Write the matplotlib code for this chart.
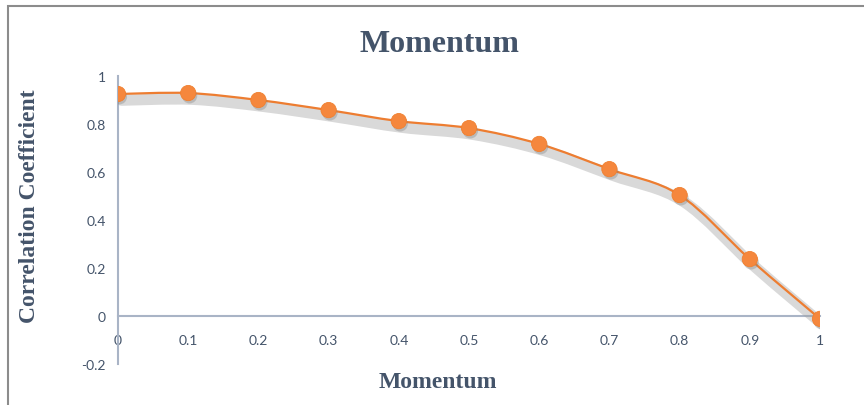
import numpy as np
import matplotlib
matplotlib.use('Agg')
import matplotlib.pyplot as plt
import matplotlib.patheffects as pe
from matplotlib.path import Path
from matplotlib.patches import PathPatch, Rectangle

# Значения коэффициента корреляции для разных значений momentum
momentum = [0, 0.1, 0.2, 0.3, 0.4, 0.5, 0.6, 0.7, 0.8, 0.9, 1.0]
corr = [0.925, 0.929, 0.90, 0.858, 0.812, 0.783, 0.717, 0.612, 0.504, 0.237, -0.012]
x_ticks = [0, 0.1, 0.2, 0.3, 0.4, 0.5, 0.6, 0.7, 0.8, 0.9, 1]
x_tick_labels = ['0', '0.1', '0.2', '0.3', '0.4', '0.5', '0.6', '0.7', '0.8', '0.9', '1']
y_ticks = [-0.2, 0, 0.2, 0.4, 0.6, 0.8, 1]
y_tick_labels = ['-0.2', '0', '0.2', '0.4', '0.6', '0.8', '1']

text_color = '#44546A'
axis_color = '#A9B4C6'
line_color = '#ED7D31'


def smooth_path(xs, ys, k=1 / 6):
    # кривая Безье через все точки (сглаживание как в Excel)
    pts = np.column_stack([xs, ys])
    verts = [pts[0]]
    codes = [Path.MOVETO]
    n = len(pts)
    for i in range(n - 1):
        p0 = pts[i - 1] if i > 0 else pts[i]
        p1 = pts[i]
        p2 = pts[i + 1]
        p3 = pts[i + 2] if i + 2 < n else pts[i + 1]
        c1 = p1 + (p2 - p0) * k
        c2 = p2 - (p3 - p1) * k
        verts += [c1, c2, p2]
        codes += [Path.CURVE4] * 3
    return Path(verts, codes)


fig = plt.figure(figsize=(8.64, 4.06), dpi=100)
ax = fig.add_axes([0.1366, 0.101, 0.8125, 0.7093])

# рамка области диаграммы
fig.patches.append(Rectangle((7.5 / 864, -0.1), 1.2, 1 - 6.5 / 406 + 0.1,
                             transform=fig.transFigure, fill=False,
                             edgecolor='#8C8C8C', linewidth=1.5))

curve = PathPatch(smooth_path(momentum, corr), fill=False, edgecolor=line_color,
                  linewidth=1.6, zorder=3, capstyle='round',
                  path_effects=[pe.SimpleLineShadow(offset=(2.5, -4.5), shadow_color='#A0A0A0',
                                                    alpha=0.4, linewidth=8),
                                pe.Normal()])
ax.add_patch(curve)

ax.plot(momentum, corr, linestyle='none', marker='o', markersize=11,
        markerfacecolor='#F5873D', markeredgecolor='#F08030', markeredgewidth=0.6,
        zorder=4,
        path_effects=[pe.SimplePatchShadow(offset=(1, -2), shadow_rgbFace='#808080', alpha=0.35),
                      pe.Normal()])

ax.set_xlim(0, 1)
ax.set_ylim(-0.2, 1)
ax.set_xticks(x_ticks)
ax.set_xticklabels(x_tick_labels)
ax.set_yticks(y_ticks)
ax.set_yticklabels(y_tick_labels)

ax.spines['top'].set_visible(False)
ax.spines['right'].set_visible(False)
ax.spines['bottom'].set_position(('data', 0))
ax.spines['bottom'].set_color(axis_color)
ax.spines['left'].set_color(axis_color)
ax.spines['bottom'].set_linewidth(1.5)
ax.spines['left'].set_linewidth(1.5)
ax.spines['bottom'].set_zorder(2)
ax.tick_params(axis='both', length=0, labelsize=10, labelcolor=text_color)
ax.tick_params(axis='x', pad=13)
ax.tick_params(axis='y', pad=9)
for lab in ax.get_xticklabels() + ax.get_yticklabels():
    lab.set_fontfamily(['Lato', 'DejaVu Sans'])

serif = ['Liberation Serif', 'DejaVu Serif']
fig.text(439 / 864, 1 - 45 / 406, 'Momentum', ha='center', va='center',
         fontsize=23, fontweight='bold', color=text_color, family=serif)
fig.text(438 / 864, 1 - 383 / 406, 'Momentum', ha='center', va='center',
         fontsize=17, fontweight='bold', color=text_color, family=serif)
fig.text(30 / 864, 1 - 206 / 406, 'Correlation Coefficient', ha='center', va='center',
         rotation=90, fontsize=17, fontweight='bold', color=text_color, family=serif)

plt.savefig('out.png', dpi=100)
